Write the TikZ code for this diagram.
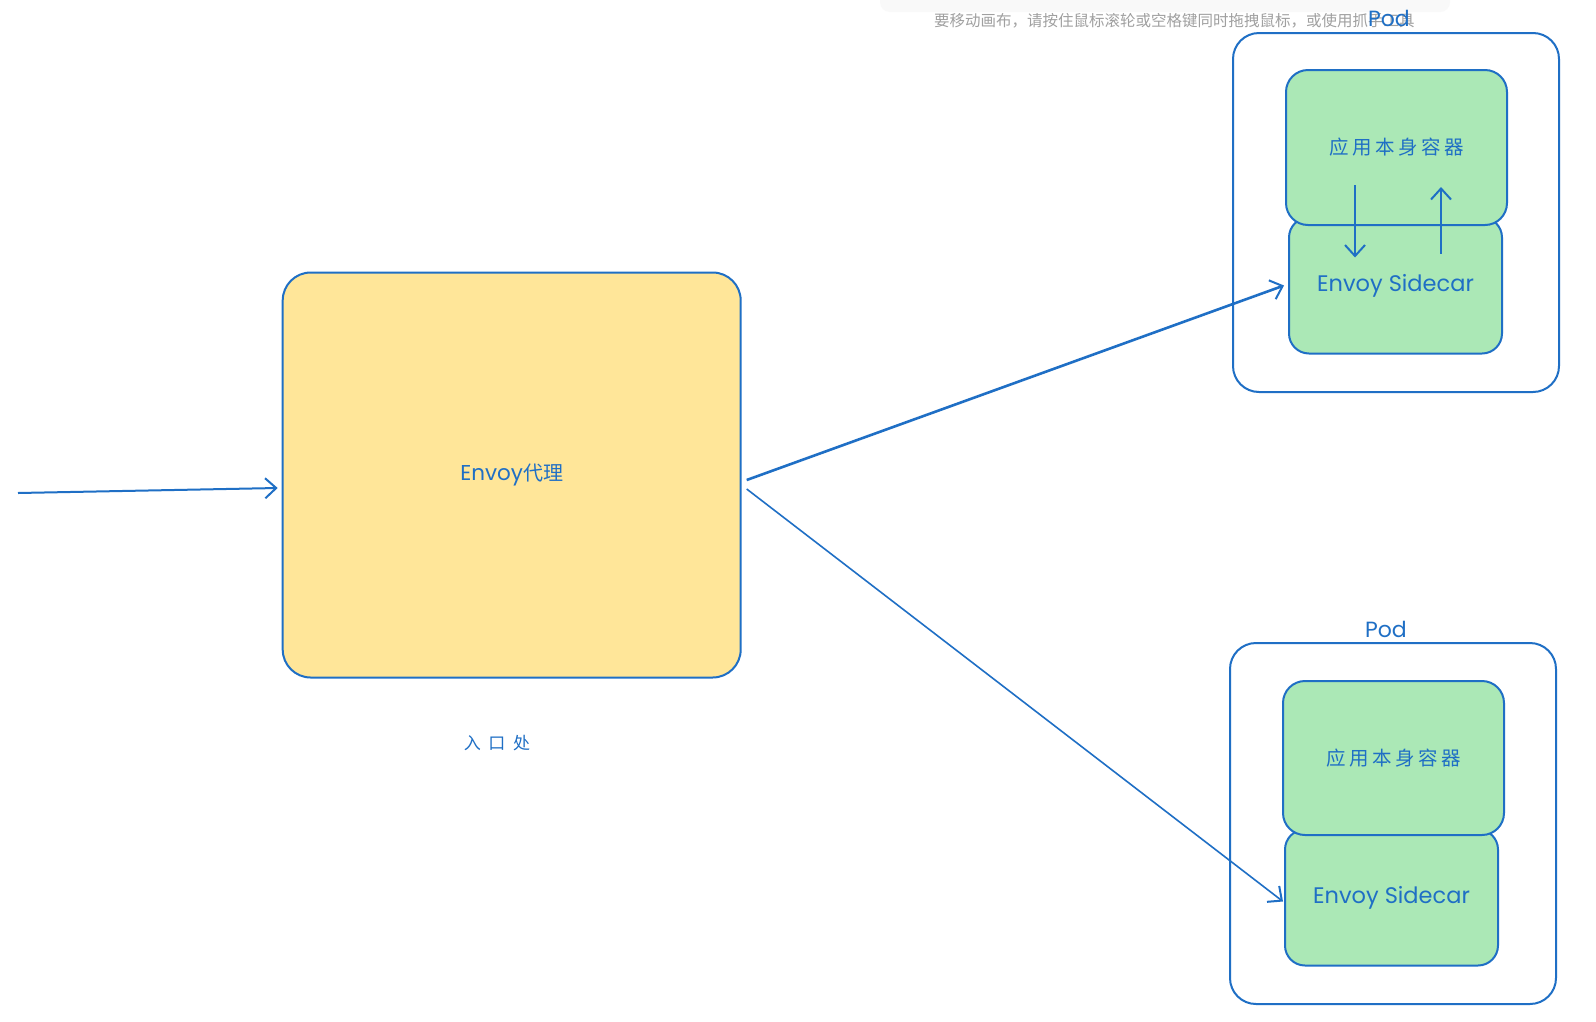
\documentclass[tikz,border=0pt]{standalone}
\usepackage{fontspec}
\setmainfont{Poppins}
\newfontfamily\cjk{Noto Sans CJK SC}
\newfontfamily\cjksp[LetterSpace=18]{Noto Sans CJK SC}
\newfontfamily\cjkwide[LetterSpace=45]{Noto Sans CJK SC}
\usetikzlibrary{arrows.meta}
\definecolor{ink}{HTML}{1F6FC5}
\definecolor{yel}{HTML}{FFE699}
\definecolor{grn}{HTML}{ABE8B6}
\definecolor{hint}{HTML}{A0A0A0}
\tikzset{
  box/.style={draw=ink, line width=2pt, rounded corners=24pt, inner sep=0pt, text=ink},
  podbox/.style={box, fill=white, rounded corners=26pt},
  appbox/.style={box, fill=grn, rounded corners=22pt, minimum width=221pt, minimum height=155pt},
  scbox/.style={box, fill=grn, rounded corners=20pt, minimum width=213pt, minimum height=136pt},
  lbl/.style={text=ink, inner sep=0pt},
  arr/.style={draw=ink, line width=2pt, -{Straight Barb[length=11pt,width=20pt,line width=2pt]}},
}
\begin{document}
\begin{tikzpicture}[x=1pt,y=-1pt]
\useasboundingbox (0,0) rectangle (1596,1021);
\fill[white] (0,0) rectangle (1596,1021);
% faint toolbar shadow
\fill[gray!5, rounded corners=10pt] (880,-20) rectangle (1450,12);
\node[anchor=west, text=hint, inner sep=0pt, font=\cjk\fontsize{15.5}{18}\selectfont] (hinttext) at (934,21) {要移动画布，请按住鼠标滚轮或空格键同时拖拽鼠标，或使用抓手工具};

% entry proxy
\node[box, fill=yel, rounded corners=28pt, minimum width=458pt, minimum height=405pt,
      font=\fontsize{21.5}{24}\selectfont] (proxy) at (511.7,475)
      {Envoy{\cjk\fontsize{20}{24}\selectfont 代理}};
\node[lbl, font=\cjkwide\fontsize{17}{20}\selectfont] (entry) at (497,743) {入口处};

% Pod 1
\node[podbox, minimum width=326pt, minimum height=359pt] (pod1) at (1396,212.5) {};
\node[scbox, font=\fontsize{22.5}{26}\selectfont] (sc1) at (1395.5,285.5) {Envoy Sidecar};
\node[appbox, font=\cjksp\fontsize{19.5}{22}\selectfont] (app1) at (1396.5,147.5) {应用本身容器};
\node[lbl, font=\fontsize{22}{24}\selectfont] (podl1) at (1389,18) {Pod};

% Pod 2
\node[podbox, minimum width=326pt, minimum height=361pt] (pod2) at (1393,823.5) {};
\node[scbox, font=\fontsize{22.5}{26}\selectfont] (sc2) at (1391.5,897.5) {Envoy Sidecar};
\node[appbox, minimum height=154pt, font=\cjksp\fontsize{19.5}{22}\selectfont] (app2) at (1393.5,758) {应用本身容器};
\node[lbl, font=\fontsize{22}{24}\selectfont] (podl2) at (1386,629) {Pod};

% connectors
\coordinate (inStart) at (18,493);
\draw[arr] (inStart) -- ([xshift=-4pt,yshift=-13pt]proxy.west);
\draw[arr, line width=2.6pt] ([xshift=5pt,yshift=-5pt]proxy.east) -- ([xshift=-4pt]sc1.west);
\draw[arr, line width=1.6pt] ([xshift=5pt,yshift=-14pt]proxy.east) -- ([xshift=-1pt,yshift=-4pt]sc2.west);
\draw[arr] ([xshift=-41.5pt,yshift=41pt]app1.south) -- ([xshift=-40.5pt,yshift=-41pt]sc1.north);
\draw[arr] ([xshift=45.5pt,yshift=-37pt]sc1.north) -- ([xshift=44.5pt,yshift=39pt]app1.south);
\end{tikzpicture}
\end{document}
